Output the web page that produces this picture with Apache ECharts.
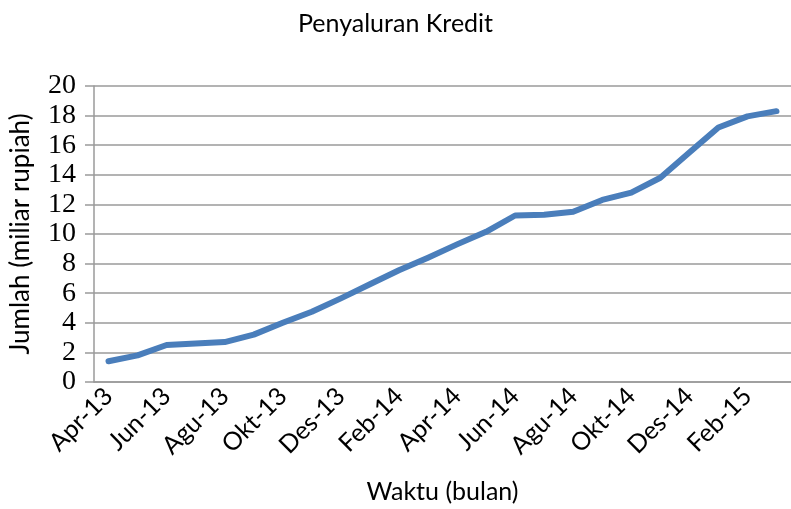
<!DOCTYPE html>
<html>
<head>
<meta charset="utf-8">
<script src="https://cdn.jsdelivr.net/npm/echarts@6/dist/echarts.min.js"></script>
<style>
  html, body { margin: 0; padding: 0; background: #fff; }
  #chart { width: 791px; height: 509px; }
</style>
</head>
<body>
<div id="chart"></div>
<script>
// bulan (Apr-13 .. Mar-15)
const months = ['Apr-13', 'Mei-13', 'Jun-13', 'Jul-13', 'Agu-13', 'Sep-13', 'Okt-13', 'Nov-13',
  'Des-13', 'Jan-14', 'Feb-14', 'Mar-14', 'Apr-14', 'Mei-14', 'Jun-14', 'Jul-14', 'Agu-14',
  'Sep-14', 'Okt-14', 'Nov-14', 'Des-14', 'Jan-15', 'Feb-15', 'Mar-15']
// jumlah kredit (miliar rupiah)
const kredit = [1.4, 1.8, 2.5, 2.6, 2.7, 3.2, 4.0, 4.75, 5.65, 6.6, 7.55, 8.4, 9.3, 10.15,
  11.25, 11.3, 11.5, 12.3, 12.8, 13.8, 15.5, 17.2, 17.95, 18.3]

const chart = echarts.init(document.getElementById('chart'))
const grey = '#9a9a9a'
const sans = 'Lato'
chart.setOption({
  animation: false,
  title: {
    text: 'Penyaluran Kredit',
    left: 'center',
    top: 6,
    textStyle: { fontFamily: sans, fontSize: 25, fontWeight: 'normal', color: '#000' }
  },
  grid: { left: 94, right: 0, top: 86, bottom: 125 },
  xAxis: {
    type: 'category',
    data: months,
    boundaryGap: true,
    name: 'Waktu (bulan)',
    nameLocation: 'middle',
    nameGap: 97,
    nameTextStyle: { fontFamily: sans, fontSize: 25, color: '#000' },
    axisLine: { lineStyle: { color: grey, width: 1.5 } },
    axisTick: { interval: 1, length: 8, lineStyle: { color: grey, width: 1.5 } },
    axisLabel: {
      interval: 1,
      rotate: 45,
      margin: 10,
      fontFamily: sans,
      fontSize: 25,
      color: '#000'
    },
    splitLine: { show: false }
  },
  yAxis: {
    type: 'value',
    min: 0,
    max: 20,
    interval: 2,
    name: 'Jumlah (miliar rupiah)',
    nameLocation: 'middle',
    nameGap: 60,
    nameTextStyle: { fontFamily: sans, fontSize: 26, color: '#000' },
    axisLine: { show: true, lineStyle: { color: grey, width: 1.5 } },
    axisTick: { show: true, length: 9, lineStyle: { color: grey, width: 1.5 } },
    axisLabel: { fontFamily: 'Liberation Serif', fontSize: 28, color: '#000', margin: 18 },
    splitLine: { lineStyle: { color: grey, width: 1.5 } }
  },
  series: [{
    type: 'line',
    data: kredit,
    symbol: 'none',
    lineStyle: { color: '#4a7ebb', width: 6, cap: 'round', join: 'round' }
  }]
})
</script>
</body>
</html>
